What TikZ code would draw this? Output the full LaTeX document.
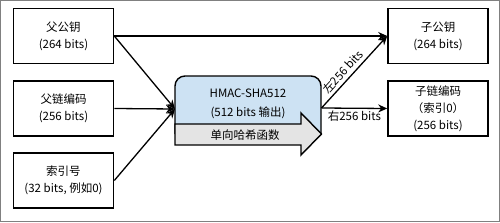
\documentclass[tikz,border=0pt]{standalone}
\usepackage{fontspec}
\usetikzlibrary{arrows.meta}
\setmainfont{Noto Sans CJK SC}
\definecolor{hmacblue}{RGB}{205,226,243}
\definecolor{hashgray}{RGB}{228,228,228}
\tikzset{
	keybox/.style={draw,line width=1.6pt,minimum width=100pt,minimum height=55pt,align=center,inner sep=0pt},
	keytext/.style={font=\fontsize{11.5}{17}\selectfont},
}
\begin{document}
\begin{tikzpicture}[x=1pt,y=-1pt,keytext]

	%frame
	\draw[gray,line width=1pt] (0.5,0.5) rectangle (499.5,221.5);

	%inputs
	\node[keybox] (parentpub) at (63.5,36) {父公钥\\(264 bits)};
	\node[keybox] (parentchain) at (63.5,108.5) {父链编码\\(256 bits)};
	\node[keybox] (index) at (63.5,180.5) {索引号\\(32 bits, 例如0)};

	%outputs
	\node[keybox] (childpub) at (438,36) {子公钥\\(264 bits)};
	\node[keybox] (childchain) at (438,108.5) {子链编码\\（索引0）\\(256 bits)};

	% hmac
	\draw[line width=1.4pt,fill=hmacblue,rounded corners=10pt] (175,134) -- (175,76) -- (321,76) -- (321,134);
	\draw[line width=1.4pt,fill=hashgray,line join=miter] (175,124) -- (301,124) -- (301,113) -- (321.5,134) -- (301,155) -- (301,145) -- (175,145) -- cycle;
	\node (hmacname) at (248,93) {HMAC-SHA512};
	\node (hmacout) at (248,113) {(512 bits 输出)};
	\node (hashname) at (245,135) {单向哈希函数};
	\coordinate (in) at (175,109);
	\coordinate (out) at (321.5,108);

	%%% arrows
	\draw[->,>={Stealth[length=9pt,width=8pt]},line width=1.3pt] (parentpub.east) -- (in);
	\draw[->,>={Stealth[length=9pt,width=8pt]},line width=1.3pt] (parentchain.east) -- (in);
	\draw[->,>={Stealth[length=9pt,width=8pt]},line width=1.3pt] (index.east) -- (in);
	\draw[->,>={Stealth[length=9pt,width=8pt]},line width=1.3pt] (parentpub.east) -- (childpub.west);
	\draw[->,>={Stealth[length=9pt,width=8pt]},line width=1.3pt] (out) -- (childpub.west) node[pos=0.42,above,sloped,inner sep=3pt] {左256 bits};
	\draw[->,>={Stealth[length=9pt,width=8pt]},line width=1.3pt] (out) -- (childchain.west) node[midway,below,inner sep=2pt] {右256 bits};
\end{tikzpicture}
\end{document}
